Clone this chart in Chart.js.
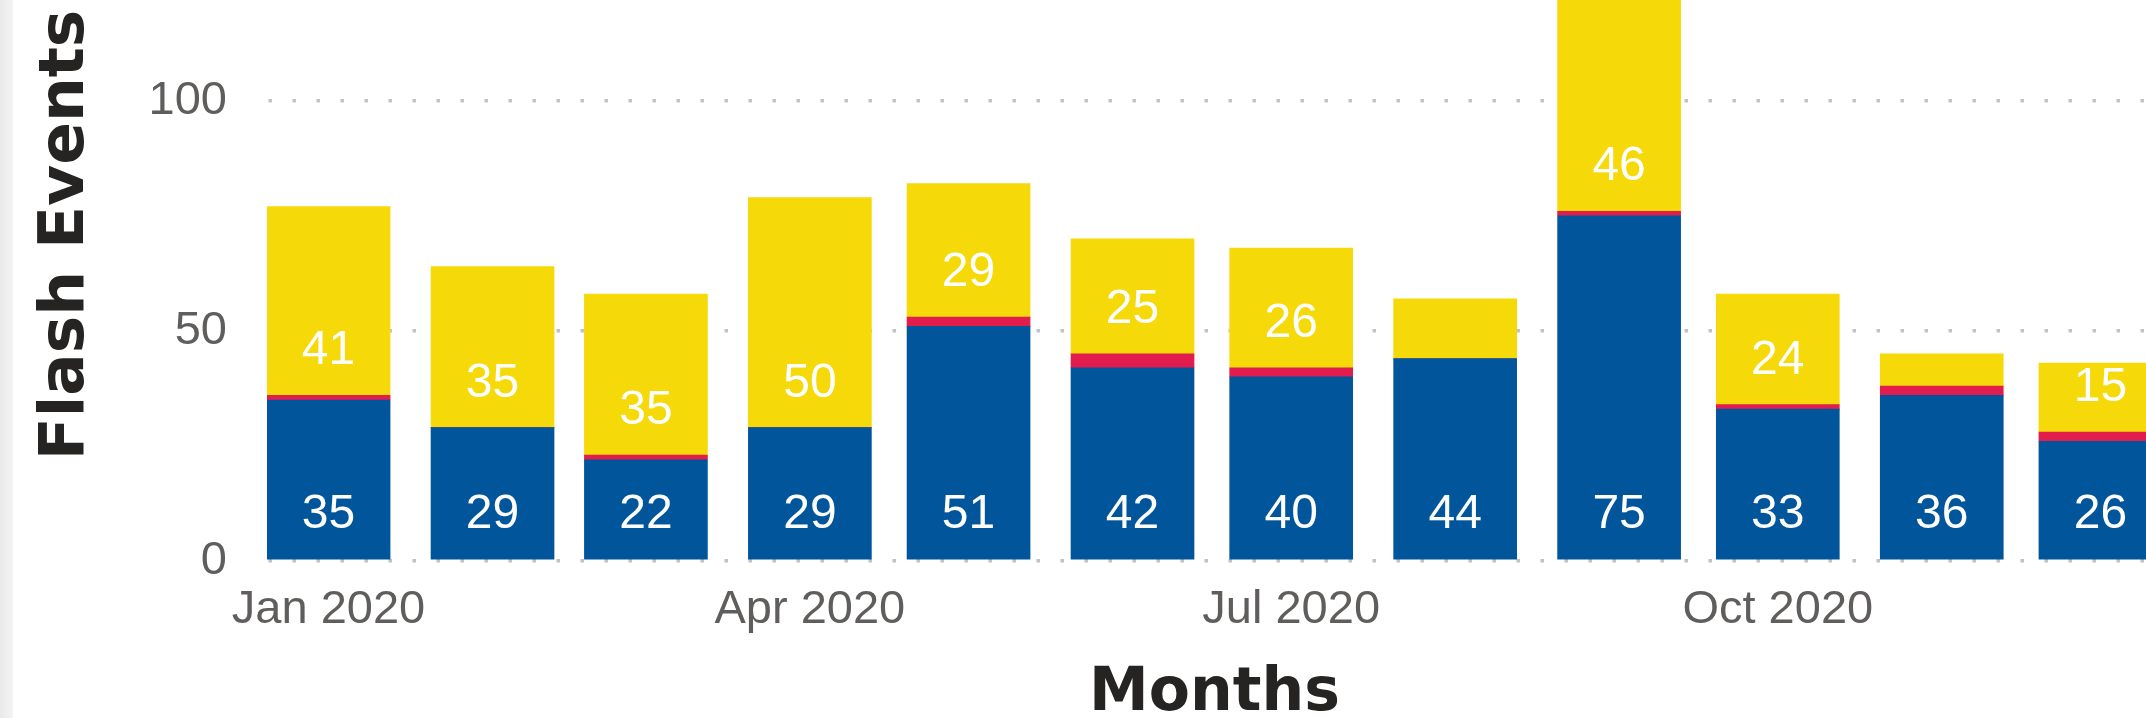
<!DOCTYPE html>
<html>
<head>
<meta charset="utf-8">
<script src="https://cdn.jsdelivr.net/npm/chart.js@4.4.1/dist/chart.umd.min.js"></script>
<style>
  html, body { margin: 0; padding: 0; background: #ffffff; }
  #wrap { position: absolute; left: 0; top: 0; width: 2146px; height: 718px; overflow: hidden; background: #ffffff; }
  #c { position: absolute; left: 0; top: -91px; }
  #edge { position: absolute; left: 0; top: 0; width: 13px; height: 718px;
          background: linear-gradient(to right, #e9e9e9, #f4f4f4); }
</style>
</head>
<body>
<div id="wrap">
  <canvas id="c" width="2162" height="809"></canvas>
  <div id="edge"></div>
</div>
<script>
// ---- data ----
const MONTHS = ['2020-01','2020-02','2020-03','2020-04','2020-05','2020-06',
                '2020-07','2020-08','2020-09','2020-10','2020-11','2020-12'];
const BLUE   = [35, 29, 22, 29, 51, 42, 40, 44, 75, 33, 36, 26];
const RED    = [ 1,  0,  1,  0,  2,  3,  2,  0,  1,  1,  2,  2];
const YELLOW = [41, 35, 35, 50, 29, 25, 26, 13, 46, 24,  7, 15];
const X_TICK_MONTHS = ['2020-01','2020-04','2020-07','2020-10'];
const X_TICK_LABELS = ['Jan 2020','Apr 2020','Jul 2020','Oct 2020'];
const Y_TICKS = [0, 50, 100];
const Y_TITLE = 'Flash Events';
const X_TITLE = 'Months';

// ---- helpers ----
function dayIndex(ym) {
  const [y, m] = ym.split('-').map(Number);
  return (Date.UTC(y, m - 1, 1) - Date.UTC(2020, 0, 1)) / 86400000;
}
const points = arr => MONTHS.map((m, i) => ({ x: dayIndex(m), y: arr[i] }));

const HALF_BAR_DAYS = 11.64;
const X_MIN = dayIndex(MONTHS[0]) - HALF_BAR_DAYS;
const X_MAX = dayIndex(MONTHS[MONTHS.length - 1]) + HALF_BAR_DAYS;
const Y_MAX = 141.7;

const TICK_FONT = { family: "'Liberation Sans', Arial, sans-serif", size: 47 };
const TITLE_FONT_FAMILY = "'DejaVu Sans', 'Liberation Sans', sans-serif";

const insideBaseLabels = {
  id: 'insideBaseLabels',
  afterDatasetsDraw(chart) {
    const ctx = chart.ctx;
    ctx.save();
    ctx.font = "48px 'Liberation Sans', Arial, sans-serif";
    ctx.fillStyle = '#ffffff';
    ctx.textAlign = 'center';
    ctx.textBaseline = 'alphabetic';
    const offset = 31, cap = 35;
    chart.data.datasets.forEach((ds, di) => {
      const meta = chart.getDatasetMeta(di);
      meta.data.forEach((el, i) => {
        const v = ds.data[i].y;
        if (!v) return;
        const p = el.getProps(['x', 'y', 'base'], true);
        const h = p.base - p.y;
        if (h < offset + cap) return;
        ctx.fillText(String(v), p.x, p.base - offset);
      });
    });
    ctx.restore();
  }
};

new Chart(document.getElementById('c'), {
  type: 'bar',
  data: {
    datasets: [
      { label: 'Blue',   data: points(BLUE),   backgroundColor: '#01559B', borderWidth: 0, barThickness: 123 },
      { label: 'Red',    data: points(RED),    backgroundColor: '#E21C4C', borderWidth: 0, barThickness: 123 },
      { label: 'Yellow', data: points(YELLOW), backgroundColor: '#F5D908', borderWidth: 0, barThickness: 123 }
    ]
  },
  options: {
    responsive: false,
    animation: false,
    devicePixelRatio: 1,
    layout: { padding: { left: 35.5, top: 0, right: 0, bottom: 0 } },
    plugins: { legend: { display: false }, tooltip: { enabled: false } },
    scales: {
      x: {
        type: 'linear',
        stacked: true,
        offset: false,
        min: X_MIN,
        max: X_MAX,
        grid: { display: false, drawTicks: false, offset: false },
        border: { display: false },
        ticks: {
          font: TICK_FONT, color: '#605E5C', padding: 21,
          autoSkip: false, maxRotation: 0, minRotation: 0,
          callback: (v, i) => X_TICK_LABELS[i]
        },
        afterBuildTicks: s => { s.ticks = X_TICK_MONTHS.map(m => ({ value: dayIndex(m) })); },
        afterFit: s => { s.height = 157; s.paddingLeft = 0; s.paddingRight = 0; },
        title: {
          display: true, text: X_TITLE, color: '#252423', padding: 0,
          font: { family: TITLE_FONT_FAMILY, weight: 'bold', size: 60, lineHeight: 0.8 }
        }
      },
      y: {
        stacked: true,
        min: 0,
        max: Y_MAX,
        grid: { color: '#C2C2C2', lineWidth: 3.5, drawTicks: false },
        border: { display: false, dash: [3.5, 20.5], dashOffset: -1.5 },
        ticks: { font: TICK_FONT, color: '#605E5C', padding: 40 },
        afterBuildTicks: s => { s.ticks = Y_TICKS.map(v => ({ value: v })); },
        afterFit: s => { s.width = 267 - 35.5; s.paddingTop = 0; s.paddingBottom = 0; },
        title: {
          display: true, text: Y_TITLE, color: '#252423', padding: 0,
          font: { family: TITLE_FONT_FAMILY, weight: 'bold', size: 63, lineHeight: 1 }
        }
      }
    }
  },
  plugins: [insideBaseLabels]
});
</script>
</body>
</html>
